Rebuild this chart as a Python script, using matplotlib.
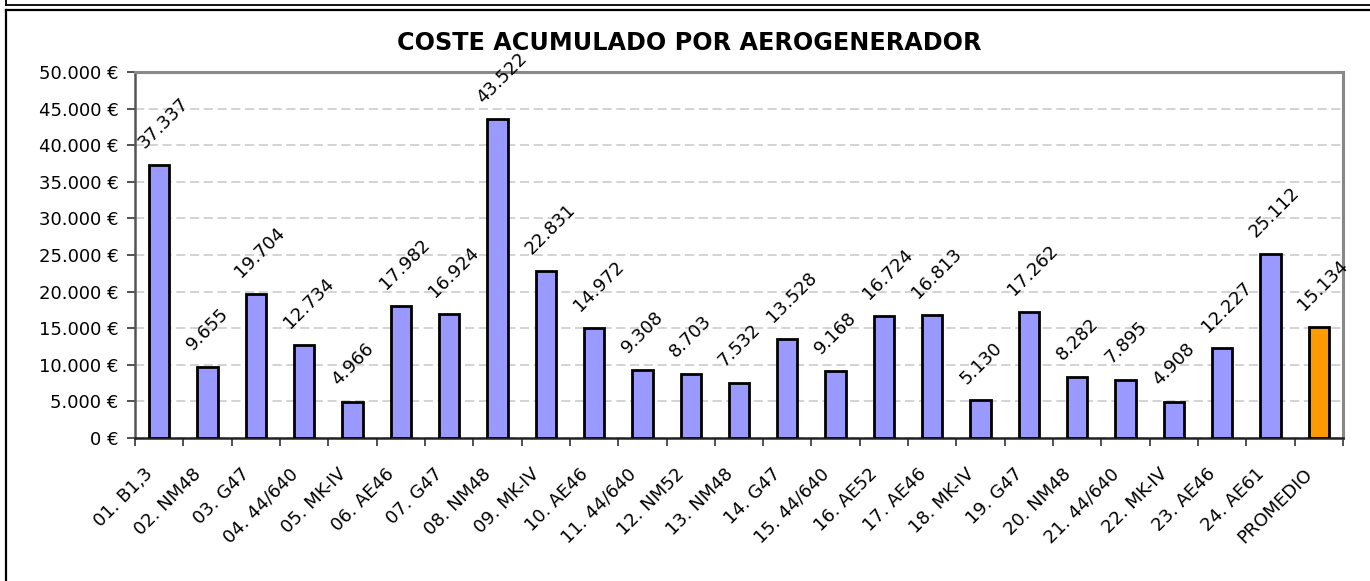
import matplotlib
matplotlib.use("Agg")
import matplotlib.pyplot as plt
from matplotlib.lines import Line2D
from matplotlib.transforms import ScaledTranslation
import numpy as np

# ---- data ----
categories = ["01. B1,3", "02. NM48", "03. G47", "04. 44/640", "05. MK-IV",
              "06. AE46", "07. G47", "08. NM48", "09. MK-IV", "10. AE46",
              "11. 44/640", "12. NM52", "13. NM48", "14. G47", "15. 44/640",
              "16. AE52", "17. AE46", "18. MK-IV", "19. G47", "20. NM48",
              "21. 44/640", "22. MK-IV", "23. AE46", "24. AE61", "PROMEDIO"]
values = [37337, 9655, 19704, 12734, 4966, 17982, 16924, 43522, 22831, 14972,
          9308, 8703, 7532, 13528, 9168, 16724, 16813, 5130, 17262, 8282,
          7895, 4908, 12227, 25112, 15134]
yticks = [0, 5000, 10000, 15000, 20000, 25000, 30000, 35000, 40000, 45000, 50000]
title = "COSTE ACUMULADO POR AEROGENERADOR"

def fmt_thousands(v):
    return f"{int(v):,}".replace(",", ".")

W, H, DPI = 1370, 581, 100
fig = plt.figure(figsize=(W / DPI, H / DPI), dpi=DPI)
plt.rcParams['font.family'] = ['DejaVu Sans']
FS = 13

# plot area: x 135..1343, y 72..438 (pixels from top)
left, right, top, bottom = 135, 1343, 72, 438
ax = fig.add_axes([left / W, 1 - bottom / H, (right - left) / W, (bottom - top) / H])

x = np.arange(len(categories))
colors = ["#9999FF"] * (len(categories) - 1) + ["#FF9900"]
ax.bar(x, values, width=0.42, color=colors, edgecolor="black", linewidth=2.0, zorder=3)

ax.set_xlim(-0.5, len(categories) - 0.5)
ax.set_ylim(0, 50000)
ax.set_yticks(yticks)
ax.set_yticklabels([("0 €" if v == 0 else fmt_thousands(v) + " €") for v in yticks], fontsize=FS)

ax.grid(axis="y", color="#c8c8c8", linestyle=(0, (6, 3)), linewidth=1.1, zorder=0)
ax.set_axisbelow(True)

ax.set_xticks(x)
ax.set_xticklabels(categories, fontsize=FS, rotation=45, ha="right", va="center",
                   rotation_mode="anchor")
ax.tick_params(axis="x", which="major", length=0, pad=24)
ax.set_xticks(np.arange(-0.5, len(categories), 1.0), minor=True)
ax.tick_params(axis="x", which="minor", length=6, width=1.2, color="#333333", direction="out")
ax.tick_params(axis="y", length=6, width=1.2, color="#333333", direction="out", pad=6)

offset = ScaledTranslation(-9 / DPI, 0, fig.dpi_scale_trans)
for lab in ax.get_xticklabels():
    lab.set_transform(lab.get_transform() + offset)

for s in ["top", "right"]:
    ax.spines[s].set_color("#888888")
    ax.spines[s].set_linewidth(2.2)
ax.spines["left"].set_color("#555555")
ax.spines["left"].set_linewidth(1.8)
ax.spines["bottom"].set_color("#222222")
ax.spines["bottom"].set_linewidth(1.8)

for xi, v in zip(x, values):
    ax.annotate(fmt_thousands(v), (xi, v), xytext=(-13, 14), textcoords="offset points",
                rotation=45, ha="left", va="center", rotation_mode="anchor",
                fontsize=FS, annotation_clip=False, zorder=5)

fig.text(689 / W, 1 - 43 / H, title, ha="center", va="center",
         fontsize=17.2, fontweight="bold")

# chart frame lines
def px_line(x0, y0, x1, y1, lw=1.5, color="black"):
    fig.add_artist(Line2D([x0 / W, x1 / W], [1 - y0 / H, 1 - y1 / H],
                          transform=fig.transFigure, color=color, linewidth=lw))

px_line(5.5, 4.5, W, 4.5, lw=1.3)
px_line(5.5, 0, 5.5, 4.5, lw=1.3)
px_line(5.5, 9.5, W, 9.5, lw=1.6)
px_line(5.5, 9.5, 5.5, H, lw=1.6)

fig.savefig("out.png", dpi=DPI)
